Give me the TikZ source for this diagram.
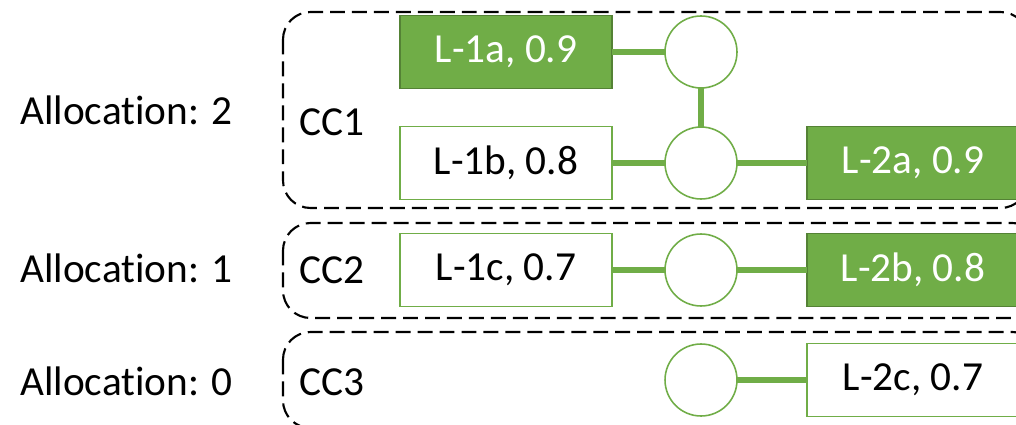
\documentclass[tikz,border=0pt]{standalone}
\usepackage{fontspec}
\setmainfont{Carlito}[Ligatures={NoCommon}]
\definecolor{gfill}{HTML}{70AD47}
\definecolor{gdark}{HTML}{548235}
\tikzset{
  px/.style={x=0.02cm,y=-0.02cm},
  grp/.style={draw=black,line width=1.2pt,dash pattern=on 8.5pt off 4pt,rounded corners=0.55cm},
  lbox/.style={draw=gfill,fill=white,line width=1pt,minimum width=4.24cm,minimum height=1.46cm,inner sep=0pt,outer sep=0pt,font=\fontsize{23.5}{28}\selectfont,text=black},
  lboxon/.style={lbox,draw=gdark,fill=gfill,text=white},
  node circ/.style={circle,draw=gfill,fill=white,line width=0.9pt,minimum size=1.44cm,inner sep=0pt,outer sep=0pt},
  link/.style={draw=gfill,line width=3.4pt},
  txt/.style={font=\fontsize{23.5}{28}\selectfont,anchor=west,inner sep=0pt}
}
\begin{document}
\begin{tikzpicture}[px]
\useasboundingbox (0,0) rectangle (1016,425);
\clip (0,0) rectangle (1016,425);
% groups
\draw[grp] (283,12) rectangle (1028,208);
\draw[grp] (283,223) rectangle (1040,318);
\draw[grp] (283,332) rectangle (1040,428);
% labels
\node[txt] (a2) at (20,110) {Allocation: 2};
\node[txt] (a1) at (20,268) {Allocation: 1};
\node[txt] (a0) at (20,381) {Allocation: 0};
\node[txt] (cc1) at (299,122) {CC1};
\node[txt] (cc2) at (299,270) {CC2};
\node[txt] (cc3) at (299,382) {CC3};
% nodes
\node[lboxon] (l1a) at (506,52) {L-1a, 0.9};
\node[lbox] (l1b) at (506,163) {L-1b, 0.8};
\node[lbox] (l1c) at (506,270) {L-1c, 0.7};
\node[lboxon] (l2a) at (913,163) {L-2a, 0.9};
\node[lboxon] (l2b) at (913,270) {L-2b, 0.8};
\node[lbox] (l2c) at (913,380) {L-2c, 0.7};
\node[node circ] (c1) at (701,52) {};
\node[node circ] (c2) at (701,163) {};
\node[node circ] (c3) at (701,270) {};
\node[node circ] (c4) at (701,380) {};
% links
\draw[link] (l1a.east) -- (c1.west);
\draw[link] (c1.south) -- (c2.north);
\draw[link] (l1b.east) -- (c2.west);
\draw[link] (c2.east) -- (l2a.west);
\draw[link] (l1c.east) -- (c3.west);
\draw[link] (c3.east) -- (l2b.west);
\draw[link] (c4.east) -- (l2c.west);
\end{tikzpicture}
\end{document}
